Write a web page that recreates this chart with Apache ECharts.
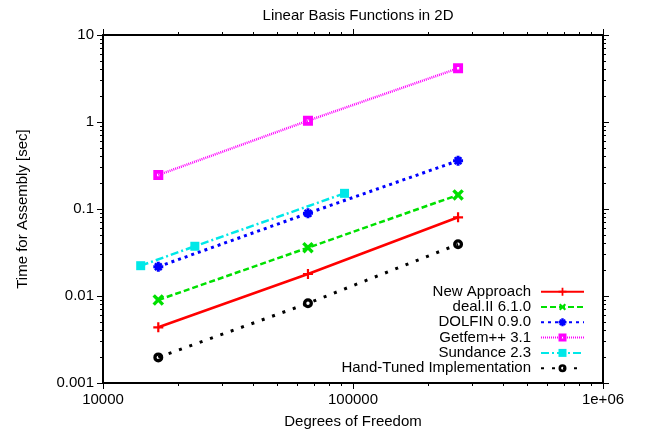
<!DOCTYPE html>
<html>
<head>
<meta charset="utf-8">
<script src="https://cdn.jsdelivr.net/npm/echarts@6/dist/echarts.min.js"></script>
<style>
  html, body { margin: 0; padding: 0; background: #fff; }
  #main { width: 646px; height: 435px; }
</style>
</head>
<body>
<div id="main"></div>
<script>
// degrees of freedom (x) for the three mesh sizes, sundance uses its own meshes
var dofs = [16641, 66049, 263169];
var sundanceDofs = [14150, 23300, 92500];

// assembly times in seconds
var newApproach = [0.00437, 0.0179, 0.0803];
var dealII = [0.0090, 0.0359, 0.145];
var dolfin = [0.0217, 0.0893, 0.359];
var getfem = [0.246, 1.035, 4.14];
var sundance = [0.0223, 0.0373, 0.1514];
var handTuned = [0.00197, 0.00824, 0.0393];

var names = ["New Approach", "deal.II 6.1.0", "DOLFIN 0.9.0", "Getfem++ 3.1", "Sundance 2.3", "Hand-Tuned Implementation"];

var xTickLabels = ["10000", "100000", "1e+06"];
var yTickLabels = ["0.001", "0.01", "0.1", "1", "10"];

function pairs(xs, ys) {
  return xs.map(function (x, i) { return [x, ys[i]]; });
}

// minor tick positions (2..9 in each decade) in log10 units, for value axes
function minors(fromExp, decades) {
  var out = [];
  for (var d = 0; d < decades; d++) {
    for (var k = 2; k <= 9; k++) out.push(fromExp + d + Math.log10(k));
  }
  return out;
}

var font = "Liberation Sans, Arial, Helvetica, sans-serif";

function fmtX(v) {
  var e = Math.round(Math.log10(v)) - 4;
  return xTickLabels[e] || "";
}
function fmtY(v) {
  var e = Math.round(Math.log10(v)) + 3;
  return yTickLabels[e] || "";
}

function mainAxis(pos, lo, hi, showLabel, fmt, extra) {
  var a = {
    type: "log",
    logBase: 10,
    gridIndex: 0,
    position: pos,
    min: lo,
    max: hi,
    axisLine: { show: true, onZero: false, lineStyle: { color: "#000", width: 2 } },
    axisTick: { show: true, inside: false, length: 6, lineStyle: { color: "#000", width: 1 } },
    axisLabel: { show: showLabel, formatter: fmt, color: "#000", fontSize: 15, fontFamily: font, margin: 9 },
    splitLine: { show: false },
    minorTick: { show: false }
  };
  for (var k in extra) a[k] = extra[k];
  return a;
}

function minorAxis(pos, lo, hi, values) {
  return {
    type: "value",
    gridIndex: 0,
    position: pos,
    min: lo,
    max: hi,
    axisLine: { show: false, onZero: false },
    axisTick: { show: true, inside: false, length: 3, customValues: values, lineStyle: { color: "#000", width: 1 } },
    axisLabel: { show: false },
    splitLine: { show: false }
  };
}

var plusPath = "path://M-1.1,-5H1.1V-1.1H5V1.1H1.1V5H-1.1V1.1H-5V-1.1H-1.1Z";
var crossPath = "path://M-1.3,-5H1.3V-1.3H5V1.3H1.3V5H-1.3V1.3H-5V-1.3H-1.3Z";
var starPath = "path://M-1.5,-5H1.5V-1.5H5V1.5H1.5V5H-1.5V1.5H-5V-1.5H-1.5Z M-4.2,-2.6L-2.6,-4.2L0,-1.6L2.6,-4.2L4.2,-2.6L1.6,0L4.2,2.6L2.6,4.2L0,1.6L-2.6,4.2L-4.2,2.6L-1.6,0Z";
var boxPath = "path://M-5,-5H5V5H-5Z M-1.2,-1.2V1.2H1.2V-1.2Z";
var ringPath = "path://M-5,0A5,5 0 1,0 5,0A5,5 0 1,0 -5,0Z M-1.7,0A1.7,1.7 0 1,1 1.7,0A1.7,1.7 0 1,1 -1.7,0Z";

var styles = [
  { color: "#ff0000", data: pairs(dofs, newApproach), line: { width: 2.5, type: "solid" },
    symbol: plusPath, size: 10, rotate: 0 },
  { color: "#00e000", data: pairs(dofs, dealII), line: { width: 2.5, type: [6, 3] },
    symbol: crossPath, size: 13, rotate: 45 },
  { color: "#0000ff", data: pairs(dofs, dolfin), line: { width: 3, type: [3, 4] },
    symbol: starPath, size: 10, rotate: 0 },
  { color: "#ff00ff", data: pairs(dofs, getfem), line: { width: 2.5, type: [1, 1] },
    symbol: boxPath, size: 10, rotate: 0 },
  { color: "#00e8e8", data: pairs(sundanceDofs, sundance), line: { width: 2.5, type: [8, 3, 2, 3] },
    symbol: "rect", size: 9, rotate: 0 },
  { color: "#000000", data: pairs(dofs, handTuned), line: { width: 3, type: [3, 8] },
    symbol: ringPath, size: 10, rotate: 0 }
];

var series = styles.map(function (s, i) {
  return {
    name: names[i],
    type: "line",
    xAxisIndex: 0,
    yAxisIndex: 0,
    data: s.data,
    symbol: s.symbol,
    symbolSize: s.size,
    symbolRotate: s.rotate,
    showAllSymbol: true,
    lineStyle: { color: s.color, width: s.line.width, type: s.line.type },
    itemStyle: { color: s.color },
    z: 10 - i
  };
});

// one legend per entry so the text lines up on the right like gnuplot does
var legendTop0 = 291.7;
var legendStep = 15.3;
var legends = names.map(function (n, i) {
  return {
    data: [n],
    right: 61,
    top: legendTop0 + legendStep * i - 7.5,
    align: "right",
    padding: 0,
    itemWidth: 43,
    itemHeight: 10,
    selectedMode: false,
    textStyle: { color: "#000", fontSize: 15, fontFamily: font, lineHeight: 15, padding: [0, 5, 0, 0] }
  };
});

var chart = echarts.init(document.getElementById("main"), null, { renderer: "canvas" });
chart.setOption({
  animation: false,
  backgroundColor: "#fff",
  title: {
    text: "Linear Basis Functions in 2D",
    left: 353,
    textAlign: "center",
    top: 3,
    textStyle: { color: "#000", fontSize: 15, fontWeight: "normal", fontFamily: font }
  },
  legend: legends,
  grid: { left: 103, right: 43, top: 35, bottom: 52, containLabel: false },
  xAxis: [
    mainAxis("bottom", 10000, 1000000, true, fmtX, {
      name: "Degrees of Freedom",
      nameLocation: "middle",
      nameGap: 31,
      nameTextStyle: { color: "#000", fontSize: 15, fontFamily: font }
    }),
    mainAxis("top", 10000, 1000000, false, fmtX, {}),
    minorAxis("bottom", 4, 6, minors(4, 2)),
    minorAxis("top", 4, 6, minors(4, 2))
  ],
  yAxis: [
    mainAxis("left", 0.001, 10, true, fmtY, {
      name: "Time for Assembly [sec]",
      nameLocation: "middle",
      nameGap: 73,
      nameTextStyle: { color: "#000", fontSize: 15, fontFamily: font }
    }),
    mainAxis("right", 0.001, 10, false, fmtY, {}),
    minorAxis("left", -3, 1, minors(-3, 4)),
    minorAxis("right", -3, 1, minors(-3, 4))
  ],
  series: series
});
</script>
</body>
</html>
